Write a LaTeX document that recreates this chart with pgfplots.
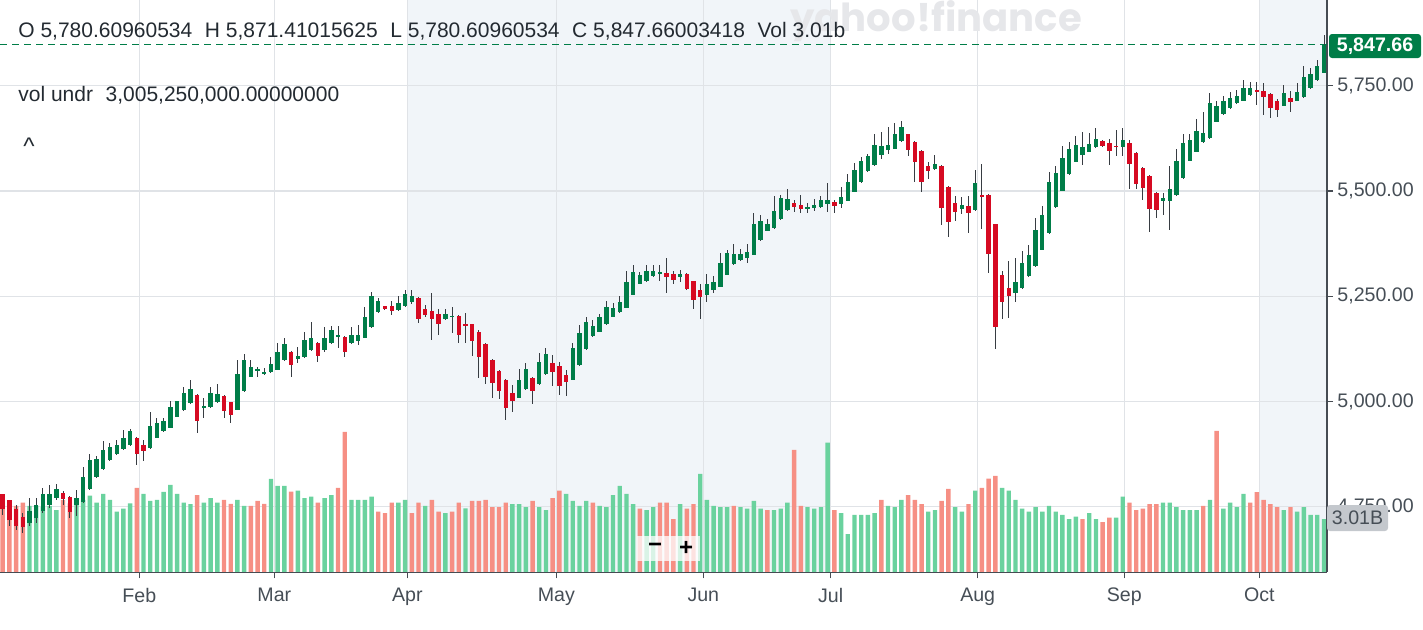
\documentclass[border=0pt]{standalone}
\usepackage{pgfplots}
\pgfplotsset{compat=1.18}
\usepackage{pgfplotstable}
\usepackage{fontspec}
\setmainfont{Liberation Sans}
\newfontfamily\wmfont{Poppins}

\definecolor{cgreen}{RGB}{0,125,72}
\definecolor{cred}{RGB}{214,10,34}
\definecolor{vgreen}{RGB}{106,210,158}
\definecolor{vred}{RGB}{246,143,132}
\definecolor{wick}{RGB}{55,60,66}
\definecolor{shadec}{RGB}{241,245,249}
\definecolor{gridc}{RGB}{224,227,231}
\definecolor{axisc}{RGB}{70,76,83}
\definecolor{txt}{RGB}{35,42,49}
\definecolor{lbl}{RGB}{70,78,86}
\definecolor{boxgray}{RGB}{196,200,205}
\definecolor{wm}{RGB}{230,231,234}

\pgfplotstableread{
k o h l c
0 4779 4781 4730 4745
1 4765 4766 4704 4719
2 4744 4753 4695 4704
3 4726 4736 4687 4702
4 4712 4770 4704 4740
5 4724 4770 4712 4753
6 4740 4795 4736 4779
7 4753 4801 4748 4781
8 4770 4805 4766 4793
9 4782 4787 4753 4769
10 4774 4775 4723 4737
11 4753 4789 4729 4771
12 4761 4845 4759 4821
13 4791 4874 4789 4860
14 4821 4870 4819 4864
15 4840 4905 4838 4884
16 4860 4901 4859 4892
17 4875 4909 4873 4896
18 4886 4933 4884 4913
19 4896 4935 4895 4929
20 4913 4915 4850 4875
21 4896 4909 4858 4882
22 4889 4976 4888 4942
23 4913 4961 4912 4950
24 4929 4961 4927 4954
25 4938 5000 4937 4988
26 4964 5002 4963 5000
27 4979 5034 4977 5020
28 4996 5051 4994 5030
29 5016 5017 4925 4953
30 4986 5008 4961 4988
31 4986 5034 4984 5020
32 4998 5041 4997 5018
33 5013 5015 4961 4978
34 4998 4999 4949 4967
35 4980 5099 4979 5065
36 5024 5112 5022 5099
37 5059 5099 5058 5083
38 5075 5083 5059 5076
39 5067 5079 5062 5069
40 5069 5106 5067 5089
41 5076 5140 5075 5118
42 5099 5150 5097 5136
43 5118 5120 5059 5087
44 5100 5129 5092 5108
45 5105 5166 5104 5146
46 5122 5189 5121 5150
47 5140 5141 5094 5108
48 5122 5177 5117 5150
49 5138 5179 5136 5170
50 5154 5179 5126 5157
51 5154 5155 5105 5118
52 5138 5176 5136 5158
53 5144 5182 5134 5158
54 5151 5225 5150 5200
55 5176 5260 5175 5250
56 5213 5247 5211 5240
57 5226 5228 5217 5220
58 5226 5239 5205 5215
59 5218 5250 5215 5234
60 5226 5264 5225 5255
61 5237 5264 5231 5250
62 5247 5248 5187 5197
63 5221 5229 5200 5205
64 5215 5258 5147 5197
65 5207 5221 5158 5183
66 5195 5221 5193 5207
67 5202 5225 5162 5203
68 5204 5205 5140 5158
69 5183 5211 5140 5181
70 5183 5184 5108 5144
71 5165 5170 5055 5105
72 5136 5138 5041 5059
73 5099 5100 5009 5045
74 5073 5075 5006 5024
75 5051 5053 4957 4984
76 5020 5039 4974 5002
77 5009 5076 5008 5051
78 5030 5091 5028 5076
79 5057 5059 4994 5026
80 5041 5116 5039 5094
81 5065 5126 5064 5112
82 5091 5110 5037 5069
83 5084 5095 5016 5037
84 5062 5075 5012 5047
85 5051 5140 5050 5126
86 5087 5181 5085 5162
87 5124 5200 5122 5189
88 5155 5193 5154 5179
89 5166 5209 5164 5200
90 5183 5238 5181 5225
91 5201 5234 5200 5223
92 5213 5250 5211 5237
93 5222 5310 5221 5285
94 5254 5325 5252 5307
95 5280 5308 5278 5300
96 5286 5325 5285 5310
97 5297 5325 5296 5310
98 5305 5325 5286 5306
99 5306 5341 5258 5297
100 5304 5310 5280 5289
101 5297 5313 5284 5304
102 5304 5305 5266 5268
103 5286 5287 5221 5242
104 5265 5279 5195 5248
105 5254 5304 5237 5279
106 5265 5298 5258 5283
107 5273 5353 5271 5328
108 5301 5361 5300 5353
109 5327 5375 5325 5350
110 5336 5362 5334 5350
111 5340 5374 5330 5356
112 5349 5447 5347 5422
113 5384 5443 5382 5429
114 5405 5433 5404 5421
115 5412 5489 5410 5453
116 5434 5491 5432 5483
117 5455 5504 5453 5481
118 5471 5480 5451 5461
119 5467 5491 5449 5457
120 5460 5471 5447 5461
121 5461 5480 5453 5467
122 5463 5489 5461 5479
123 5469 5520 5451 5479
124 5475 5480 5447 5464
125 5469 5509 5459 5485
126 5477 5540 5476 5522
127 5498 5567 5497 5550
128 5522 5580 5520 5571
129 5547 5589 5546 5583
130 5561 5635 5560 5610
131 5585 5640 5575 5606
132 5597 5652 5589 5610
133 5601 5662 5599 5635
134 5618 5666 5617 5652
135 5635 5636 5583 5597
136 5617 5618 5522 5568
137 5595 5597 5497 5522
138 5560 5568 5528 5547
139 5552 5585 5550 5564
140 5560 5561 5420 5461
141 5510 5512 5392 5426
142 5471 5488 5430 5451
143 5457 5485 5445 5468
144 5464 5488 5401 5447
145 5455 5550 5453 5518
146 5490 5564 5411 5487
147 5491 5492 5306 5351
148 5422 5423 5124 5176
149 5300 5311 5195 5237
150 5269 5333 5198 5251
151 5258 5342 5237 5283
152 5269 5358 5267 5329
153 5298 5372 5296 5349
154 5322 5435 5320 5408
155 5361 5464 5360 5443
156 5401 5546 5399 5522
157 5461 5560 5460 5544
158 5501 5607 5499 5578
159 5540 5617 5539 5599
160 5570 5631 5568 5610
161 5586 5641 5562 5604
162 5594 5639 5592 5613
163 5604 5649 5602 5624
164 5619 5621 5604 5608
165 5614 5624 5562 5596
166 5607 5645 5583 5605
167 5604 5649 5583 5621
168 5614 5621 5504 5564
169 5591 5593 5504 5517
170 5556 5558 5479 5508
171 5536 5537 5403 5457
172 5496 5498 5437 5455
173 5476 5496 5444 5484
174 5476 5560 5407 5504
175 5490 5599 5489 5572
176 5530 5636 5529 5615
177 5572 5636 5571 5621
178 5594 5671 5592 5643
179 5617 5689 5615 5639
180 5625 5733 5624 5709
181 5665 5714 5664 5701
182 5683 5725 5682 5714
183 5697 5735 5695 5722
184 5709 5739 5707 5726
185 5715 5763 5713 5746
186 5729 5760 5727 5746
187 5739 5760 5705 5737
188 5739 5756 5681 5723
189 5731 5733 5673 5697
190 5715 5718 5675 5693
191 5702 5752 5701 5734
192 5721 5739 5687 5711
193 5715 5756 5713 5735
194 5723 5798 5721 5772
195 5744 5792 5743 5779
196 5763 5812 5761 5798
197 5780.61 5871.41 5780.61 5847.66
}\candles

\pgfplotstableread{
k v up
0 4.33 0
1 4.01 0
2 3.76 0
3 3.95 0
4 3.76 1
5 3.76 1
6 3.69 1
7 3.76 1
8 3.53 1
9 4.10 0
10 3.91 0
11 3.91 1
12 4.10 1
13 4.35 1
14 3.95 1
15 4.44 1
16 4.10 1
17 3.44 1
18 3.61 1
19 3.91 1
20 4.78 0
21 4.44 1
22 4.05 1
23 4.10 1
24 4.56 1
25 4.95 1
26 4.44 1
27 3.95 1
28 3.86 1
29 4.37 0
30 3.95 1
31 4.20 1
32 3.95 1
33 4.10 0
34 3.88 0
35 4.10 1
36 3.76 1
37 3.76 0
38 4.05 0
39 3.88 0
40 5.29 1
41 4.90 1
42 4.90 1
43 4.57 0
44 4.63 1
45 4.20 1
46 4.29 1
47 3.95 0
48 4.20 1
49 4.37 1
50 4.78 0
51 7.96 0
52 4.10 1
53 4.10 1
54 4.10 1
55 4.29 1
56 3.44 0
57 3.35 0
58 3.95 0
59 3.95 1
60 4.10 1
61 3.35 0
62 3.95 0
63 3.76 1
64 4.10 0
65 3.44 0
66 3.35 1
67 3.44 0
68 3.95 0
69 3.63 1
70 4.05 0
71 4.05 0
72 4.10 0
73 3.69 0
74 3.69 0
75 3.95 0
76 3.86 1
77 3.86 1
78 3.69 1
79 4.05 0
80 3.69 1
81 3.53 1
82 4.20 0
83 4.63 0
84 4.44 1
85 4.05 1
86 3.76 1
87 4.05 1
88 3.95 0
89 3.76 1
90 3.69 1
91 4.37 1
92 4.90 1
93 4.44 1
94 3.86 1
95 3.61 0
96 3.53 1
97 3.69 1
98 3.95 0
99 3.95 0
100 3.01 0
101 3.86 1
102 3.61 0
103 3.86 0
104 5.58 1
105 4.10 1
106 3.76 1
107 3.69 1
108 3.69 1
109 3.76 0
110 3.69 1
111 3.61 1
112 4.05 1
113 3.61 1
114 3.53 0
115 3.53 1
116 3.61 1
117 3.95 1
118 6.94 0
119 3.76 0
120 3.69 1
121 3.61 1
122 3.69 1
123 7.35 1
124 3.53 0
125 3.35 1
126 2.16 1
127 3.25 1
128 3.25 1
129 3.25 1
130 3.35 1
131 4.10 0
132 3.76 1
133 3.69 1
134 4.10 1
135 4.37 0
136 4.10 0
137 3.86 0
138 3.44 1
139 3.53 1
140 4.05 0
141 4.73 0
142 3.69 1
143 3.44 1
144 3.86 0
145 4.63 1
146 4.78 0
147 5.31 0
148 5.46 0
149 4.78 1
150 4.63 1
151 4.10 1
152 3.61 1
153 3.44 1
154 3.69 1
155 3.44 1
156 3.76 1
157 3.44 1
158 3.25 1
159 3.01 1
160 3.16 1
161 3.01 0
162 3.35 1
163 3.01 1
164 2.84 0
165 3.10 0
166 3.10 1
167 4.29 1
168 3.95 0
169 3.53 0
170 3.61 0
171 3.86 0
172 3.86 0
173 3.95 1
174 3.95 1
175 3.69 1
176 3.53 1
177 3.53 1
178 3.53 1
179 3.76 0
180 4.10 1
181 8.02 0
182 3.61 1
183 3.95 1
184 3.69 1
185 4.44 1
186 3.95 0
187 4.54 0
188 4.10 0
189 3.86 0
190 3.69 0
191 3.53 1
192 3.69 0
193 3.44 1
194 3.69 1
195 3.25 1
196 3.25 1
197 3.01 1
}\vol

\newcommand{\tickfont}{\fontsize{9.8}{11}\selectfont}
\newcommand{\topfont}{\fontsize{10.5}{12}\selectfont}

\begin{document}
\begin{tikzpicture}
\pgfplotsset{
  base/.style={scale only axis, width=663.5pt, height=286.15pt,
    at={(0pt,0pt)}, anchor=south west, xmin=-0.40, xmax=197.45},
}
% ---------- background: shading + grid
\begin{axis}[base, ymin=4594, ymax=5954, hide axis]
\fill[shadec] (60.33,4594) rectangle (123.45,5954);
\fill[shadec] (187.36,4594) rectangle (197.45,5954);
\pgfplotsinvokeforeach{20.37,40.5,60.33,82.54,104.46,123.45,145.37,167.23,187.36}{
  \draw[gridc, line width=0.6pt] (#1,4594) -- (#1,5954);}
\pgfplotsinvokeforeach{4750,5000,5250,5500,5750}{
  \draw[gridc, line width=0.6pt] (-0.40,#1) -- (197.45,#1);}
\end{axis}
% ---------- volume
\begin{axis}[base, ymin=0, ymax=32.44, hide axis]
\addplot[ybar, bar width=2.2pt, bar shift=0pt, fill=vgreen, draw=none,
  restrict y to domain=0.001:100]
  table[x=k, y expr={\thisrow{up}>0.5 ? \thisrow{v} : 0}] {\vol};
\addplot[ybar, bar width=2.2pt, bar shift=0pt, fill=vred, draw=none,
  restrict y to domain=0.001:100]
  table[x=k, y expr={\thisrow{up}<0.5 ? \thisrow{v} : 0}] {\vol};
\end{axis}
% ---------- price
\begin{axis}[base, ymin=4594, ymax=5954,
  axis x line*=bottom, axis y line*=right,
  axis line style={-, axisc, line width=0.75pt},
  xtick={20.37,40.5,60.33,82.54,104.46,123.45,145.37,167.23,187.36},
  xticklabels={Feb,Mar,Apr,May,Jun,Jul,Aug,Sep,Oct},
  ytick={4750,5000,5250,5500,5750},
  yticklabels={{4,750.00},{5,000.00},{5,250.00},{5,500.00},{5,750.00}},
  tick align=outside, major tick length=3pt,
  tick style={axisc, line width=0.6pt},
  ticklabel style={font=\tickfont, text=lbl},
  xticklabel style={anchor=north, inner sep=0pt, yshift=-4.6pt},
  yticklabel style={anchor=west, inner sep=0pt, xshift=2pt}]
\addplot[cgreen, line width=0.5pt, dash pattern=on 3.5pt off 2.5pt]
  coordinates {(-0.4,5847.66) (197.45,5847.66)};
\addplot[draw=none, mark=none, error bars/.cd, y dir=both, y explicit,
  error mark=none, error bar style={draw=wick, line width=0.5pt}]
  table[x=k, y expr={(\thisrow{h}+\thisrow{l})/2},
    y error plus expr={(\thisrow{h}-\thisrow{l})/2},
    y error minus expr={(\thisrow{h}-\thisrow{l})/2}] {\candles};
\addplot[draw=none, mark=none, restrict y to domain=4000:7000,
  error bars/.cd, y dir=both, y explicit,
  error mark=none, error bar style={draw=cgreen, line width=2.2pt}]
  table[x=k, y expr={\thisrow{c}>=\thisrow{o} ? (\thisrow{o}+\thisrow{c})/2 : 0},
    y error plus expr={max(abs(\thisrow{c}-\thisrow{o})/2,1.5)},
    y error minus expr={max(abs(\thisrow{c}-\thisrow{o})/2,1.5)}] {\candles};
\addplot[draw=none, mark=none, restrict y to domain=4000:7000,
  error bars/.cd, y dir=both, y explicit,
  error mark=none, error bar style={draw=cred, line width=2.2pt}]
  table[x=k, y expr={\thisrow{c}<\thisrow{o} ? (\thisrow{o}+\thisrow{c})/2 : 0},
    y error plus expr={max(abs(\thisrow{c}-\thisrow{o})/2,1.5)},
    y error minus expr={max(abs(\thisrow{c}-\thisrow{o})/2,1.5)}] {\candles};
\end{axis}
% ---------- annotations (1 px = 0.5pt, y measured from plot bottom)
\def\P#1#2{({#1*0.5pt},{(572.3-#2)*0.5pt})}
\node[anchor=center, text=wm, font=\wmfont\bfseries\fontsize{19.3}{20}\selectfont] at \P{936}{21} {yahoo!finance};
\node[anchor=west, text=txt, font=\topfont, inner sep=0pt] at \P{18}{31}
  {O 5,780.60960534\hspace{0.6em}H 5,871.41015625\hspace{0.6em}L 5,780.60960534\hspace{0.6em}C 5,847.66003418\hspace{0.6em}Vol 3.01b};
\node[anchor=west, text=txt, font=\topfont, inner sep=0pt] at \P{18}{95}
  {vol undr\hspace{0.6em}3,005,250,000.00000000};
\node[anchor=center, text=txt, font=\fontsize{12}{12}\selectfont, inner sep=0pt] at \P{29}{146} {\textasciicircum};
% zoom control
\fill[white, opacity=0.75] \P{637}{536} rectangle \P{700}{561};
\node[font=\bfseries\fontsize{12}{12}\selectfont, inner sep=0pt] at \P{655}{548} {−};
\node[font=\bfseries\fontsize{12}{12}\selectfont, inner sep=0pt] at \P{686}{548} {+};
% last price box
\fill[cgreen, rounded corners=1.5pt] \P{1329}{34} rectangle \P{1421}{58};
\node[text=white, font=\bfseries\tickfont, inner sep=0pt] at \P{1375}{46.5} {5,847.66};
% volume box
\fill[boxgray, rounded corners=1.5pt] \P{1327}{505} rectangle \P{1388}{531};
\node[text=lbl, font=\tickfont, inner sep=0pt] at \P{1357.5}{518} {3.01B};
\pgfresetboundingbox
\path[use as bounding box] (0pt,-28.35pt) rectangle (711.5pt,286.15pt);
\end{tikzpicture}
\end{document}
